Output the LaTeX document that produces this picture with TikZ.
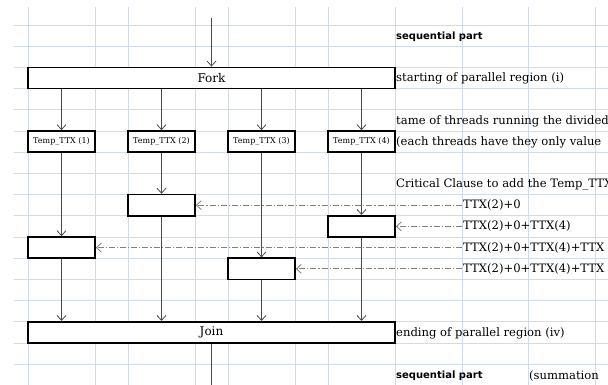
\documentclass[tikz,border=0pt]{standalone}
\usepackage{fontspec}
\usetikzlibrary{arrows.meta}
\newfontfamily\cellserif{DejaVu Serif}
\newfontfamily\cellsans{DejaVu Sans}
\definecolor{gridblue}{HTML}{D4DBE8}
\definecolor{flowgray}{HTML}{4A4A4A}
\begin{document}
\begin{tikzpicture}[x=1pt,y=-1pt,
    box/.style={draw, line width=1.6pt, minimum height=21.2pt, inner sep=0pt, fill=white, font=\cellserif\fontsize{12}{14}\selectfont},
    tbox/.style={box, minimum width=67pt, font=\cellserif\fontsize{8}{9}\selectfont},
    cbox/.style={box, minimum width=67pt},
    flow/.style={draw=flowgray, line width=0.8pt, ->, >={Straight Barb[length=5pt,width=9pt]}},
    dd/.style={flow, draw=gray, dash pattern=on 6pt off 2pt on 1.2pt off 2pt},
    note/.style={anchor=west, inner sep=1pt, font=\cellserif\fontsize{11.6}{14}\selectfont},
    snote/.style={anchor=west, inner sep=1pt, font=\cellsans\bfseries\fontsize{10}{12}\selectfont}]
  \useasboundingbox (0,0) rectangle (608,385);
  \clip (0,0) rectangle (608,385);
  \fill[white] (0,0) rectangle (608,385);
  % sheet grid
  \foreach \k in {0,...,17}
    \draw[gridblue, line width=0.8pt] (14,25+21.2*\k) -- (608,25+21.2*\k);
  \foreach \x in {28,95,128,195,228,295,328,395,462,528,595}
    \draw[gridblue, line width=0.8pt] (\x,7) -- (\x,390);

  \node[box, minimum width=367pt] (fork) at (211.5,78) {Fork};
  \node[tbox] (t1) at (61.5,141.6) {Temp\_TTX (1)};
  \node[tbox] (t2) at (161.5,141.6) {Temp\_TTX (2)};
  \node[tbox] (t3) at (261.5,141.6) {Temp\_TTX (3)};
  \node[tbox] (t4) at (361.5,141.6) {Temp\_TTX (4)};
  \node[cbox] (c2) at (161.5,205.2) {};
  \node[cbox] (c4) at (361.5,226.4) {};
  \node[cbox] (c1) at (61.5,247.6) {};
  \node[cbox] (c3) at (261.5,268.8) {};
  \node[box, minimum width=367pt] (join) at (211.5,332.4) {Join};
  \coordinate (top) at (211.5,18);
  \coordinate (bot) at (211.5,395);

  \node[snote] (l1) at (395,36.5) {sequential part};
  \node[note] (l2) at (395,78.5) {starting of parallel region (i)};
  \node[note] (l3) at (395,121) {tame of threads running the divided};
  \node[note] (l4) at (395,142) {(each threads have they only value};
  \node[note] (l5) at (395,184.5) {Critical Clause to add the Temp\_TTX};
  \node[note] (l6) at (462,205.2) {TTX(2)+0};
  \node[note] (l7) at (462,226.4) {TTX(2)+0+TTX(4)};
  \node[note] (l8) at (462,247.6) {TTX(2)+0+TTX(4)+TTX};
  \node[note] (l9) at (462,268.8) {TTX(2)+0+TTX(4)+TTX};
  \node[note] (l10) at (395,333) {ending of parallel region (iv)};
  \node[snote] (l11) at (395,375.5) {sequential part};
  \node[note] (l12) at (528,375.5) {(summation};

  \draw[flow] (top) -- (fork.north);
  \foreach \t in {t1,t2,t3,t4}
    \draw[flow] (\t.north |- fork.south) -- (\t.north);
  \draw[flow] (t1) -- (c1);
  \draw[flow] (t2) -- (c2);
  \draw[flow] (t3) -- (c3);
  \draw[flow] (t4) -- (c4);
  \draw[flow] (c1.south) -- (c1.south |- join.north);
  \draw[flow] (c2.south) -- (c2.south |- join.north);
  \draw[flow] (c3.south) -- (c3.south |- join.north);
  \draw[flow] (c4.south) -- (c4.south |- join.north);
  \draw[flow] (join.south) -- (bot);

  \draw[dd] (l6.west) -- (c2.east);
  \draw[dd] (l7.west) -- (c4.east);
  \draw[dd] (l8.west) -- (c1.east);
  \draw[dd] (l9.west) -- (c3.east);
\end{tikzpicture}
\end{document}
